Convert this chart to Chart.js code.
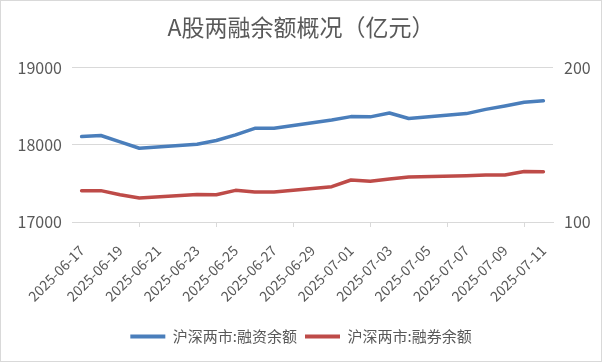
<!DOCTYPE html>
<html>
<head>
<meta charset="utf-8">
<script src="https://cdn.jsdelivr.net/npm/chart.js@4.4.1/dist/chart.umd.min.js"></script>
<style>
  html, body { margin: 0; padding: 0; background: #fff; }
  canvas { display: block; }
</style>
</head>
<body>
<canvas id="c" width="602" height="362"></canvas>
<script>
const titleText = 'A股两融余额概况（亿元）';
const dates = ['2025-06-17','2025-06-18','2025-06-19','2025-06-20','2025-06-21','2025-06-22','2025-06-23','2025-06-24','2025-06-25','2025-06-26','2025-06-27','2025-06-28','2025-06-29','2025-06-30','2025-07-01','2025-07-02','2025-07-03','2025-07-04','2025-07-05','2025-07-06','2025-07-07','2025-07-08','2025-07-09','2025-07-10','2025-07-11'];
const seriesNames = ['沪深两市:融资余额', '沪深两市:融券余额'];
const financing = [18106, 18120, 18038, 17955, null, null, 18008, 18055, 18128, 18213, 18213, null, null, 18320, 18365, 18362, 18412, 18341, null, null, 18404, 18459, 18503, 18550, 18570];
const lending = [120.3, 120.3, 117.7, 115.5, null, null, 117.8, 117.6, 120.5, 119.5, 119.5, null, null, 122.9, 127.2, 126.4, 127.8, 129.2, null, null, 129.9, 130.4, 130.5, 132.7, 132.5];
const leftTicks = [17000, 18000, 19000];
const rightTicks = [100, 200];

const FONT = '"Noto Sans CJK SC", "Noto Sans", sans-serif';
const TXT = '#595959';
const GRID = '#d9d9d9';

const borderPlugin = {
  id: 'outerBorder',
  beforeDraw(chart) {
    const ctx = chart.ctx;
    ctx.save();
    ctx.fillStyle = '#fff';
    ctx.fillRect(0, 0, chart.width, chart.height);
    ctx.strokeStyle = GRID;
    ctx.lineWidth = 1;
    ctx.strokeRect(0.5, 0.5, chart.width - 1, chart.height - 1);
    ctx.restore();
  }
};

new Chart(document.getElementById('c'), {
  type: 'line',
  data: {
    labels: dates,
    datasets: [
      { label: seriesNames[0], data: financing, yAxisID: 'y', borderColor: '#4A7EBB', backgroundColor: '#4A7EBB', borderWidth: 3.5, pointRadius: 0, tension: 0, spanGaps: true, borderCapStyle: 'round', borderJoinStyle: 'round' },
      { label: seriesNames[1], data: lending, yAxisID: 'y1', borderColor: '#BE4B48', backgroundColor: '#BE4B48', borderWidth: 3.5, pointRadius: 0, tension: 0, spanGaps: true, borderCapStyle: 'round', borderJoinStyle: 'round' }
    ]
  },
  options: {
    responsive: false,
    animation: false,
    devicePixelRatio: 1,
    layout: { padding: { top: 0, left: 0, right: 0, bottom: 8 } },
    plugins: {
      title: {
        display: true, text: titleText, color: TXT,
        font: { family: FONT, size: 23, weight: 'normal' },
        padding: { top: 13, bottom: 27 }
      },
      legend: {
        position: 'bottom',
        labels: {
          color: TXT, font: { family: FONT, size: 15 },
          boxWidth: 35, boxHeight: 4, padding: 8,
          generateLabels(chart) {
            const items = Chart.defaults.plugins.legend.labels.generateLabels(chart);
            items.forEach(it => { it.lineWidth = 0; it.fillStyle = it.strokeStyle; });
            return items;
          }
        }
      },
      tooltip: { enabled: false }
    },
    scales: {
      x: {
        type: 'category',
        offset: true,
        grid: {
          offset: true, drawOnChartArea: false, drawTicks: true, tickLength: 5,
          color: (ctx) => (ctx.index % 2 === 0 ? GRID : 'rgba(0,0,0,0)')
        },
        border: { display: true, color: GRID },
        ticks: {
          autoSkip: false, minRotation: 45, maxRotation: 45, color: TXT,
          font: { family: FONT, size: 14 }, padding: 15,
          callback(v, i) { return i % 2 === 0 ? dates[i] : null; }
        },
        afterFit(s) { s.height = 99; }
      },
      y: {
        position: 'left', min: leftTicks[0], max: leftTicks[leftTicks.length - 1],
        afterBuildTicks(s) { s.ticks = leftTicks.map(v => ({ value: v })); },
        grid: { color: GRID, drawTicks: false },
        border: { display: false },
        ticks: { color: TXT, font: { family: FONT, size: 16 }, padding: 10, callback: (v) => String(v) },
        afterFit(s) { s.width = 72; }
      },
      y1: {
        position: 'right', min: rightTicks[0], max: rightTicks[rightTicks.length - 1],
        afterBuildTicks(s) { s.ticks = rightTicks.map(v => ({ value: v })); },
        grid: { drawOnChartArea: false, drawTicks: false },
        border: { display: false },
        ticks: { color: TXT, font: { family: FONT, size: 16 }, padding: 11, callback: (v) => String(v) },
        afterFit(s) { s.width = 49; }
      }
    }
  },
  plugins: [borderPlugin]
});
</script>
</body>
</html>
